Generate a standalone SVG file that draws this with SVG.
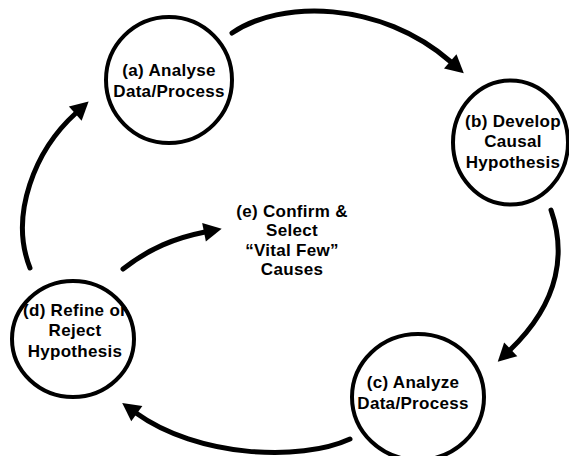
<svg xmlns="http://www.w3.org/2000/svg" width="569" height="456" viewBox="0 0 569 456">
  <style>
    .node { fill: #ffffff; stroke: #000000; stroke-width: 4; }
    .label { font-family: "Liberation Sans", Arial, sans-serif; font-size: 17px; font-weight: bold; fill: #000000; text-anchor: middle; letter-spacing: 0.3px; }
    .flow { fill: none; stroke: #000000; stroke-width: 5; stroke-linecap: round; marker-end: url(#head); }
  </style>
  <defs>
    <marker id="head" markerUnits="userSpaceOnUse" markerWidth="20" markerHeight="20" refX="0" refY="10" orient="auto" overflow="visible">
      <path d="M-1,0.5 L17,10 L-1,19.5 Z" fill="#000000"/>
    </marker>
  </defs>
  <rect width="569" height="456" fill="#ffffff"/>

  <!-- cycle connectors -->
  <g id="connectors">
    <path class="flow" d="M232,33 C280,0 380,0 451,62"/>
    <path class="flow" d="M551,210 C565,250 562,300 510,350"/>
    <path class="flow" d="M350,439 C300,462 197,457 136,413"/>
    <path class="flow" d="M30,268 C9,215 35,150 76,113"/>
    <path class="flow" d="M123,269 C150,248 175,238 205,232"/>
  </g>

  <g id="node-a">
    <circle class="node" cx="169" cy="80" r="63"/>
    <text class="label" x="169" y="76">(a) Analyse</text>
    <text class="label" x="169" y="97">Data/Process</text>
  </g>

  <g id="node-b">
    <ellipse class="node" cx="510.5" cy="142.5" rx="57.5" ry="62"/>
    <text class="label" x="513" y="127">(b) Develop</text>
    <text class="label" x="513" y="147">Causal</text>
    <text class="label" x="513" y="168">Hypothesis</text>
  </g>

  <g id="node-c">
    <ellipse class="node" cx="418" cy="397" rx="66" ry="63"/>
    <text class="label" x="413" y="388">(c) Analyze</text>
    <text class="label" x="413" y="409">Data/Process</text>
  </g>

  <g id="node-d">
    <ellipse class="node" cx="73" cy="339" rx="61" ry="58"/>
    <text class="label" x="75" y="316">(d) Refine or</text>
    <text class="label" x="75" y="336">Reject</text>
    <text class="label" x="75" y="357">Hypothesis</text>
  </g>

  <g id="node-e">
    <text class="label" x="292" y="217">(e) Confirm &amp;</text>
    <text class="label" x="292" y="236">Select</text>
    <text class="label" x="292" y="256">“Vital Few”</text>
    <text class="label" x="292" y="275">Causes</text>
  </g>
</svg>
